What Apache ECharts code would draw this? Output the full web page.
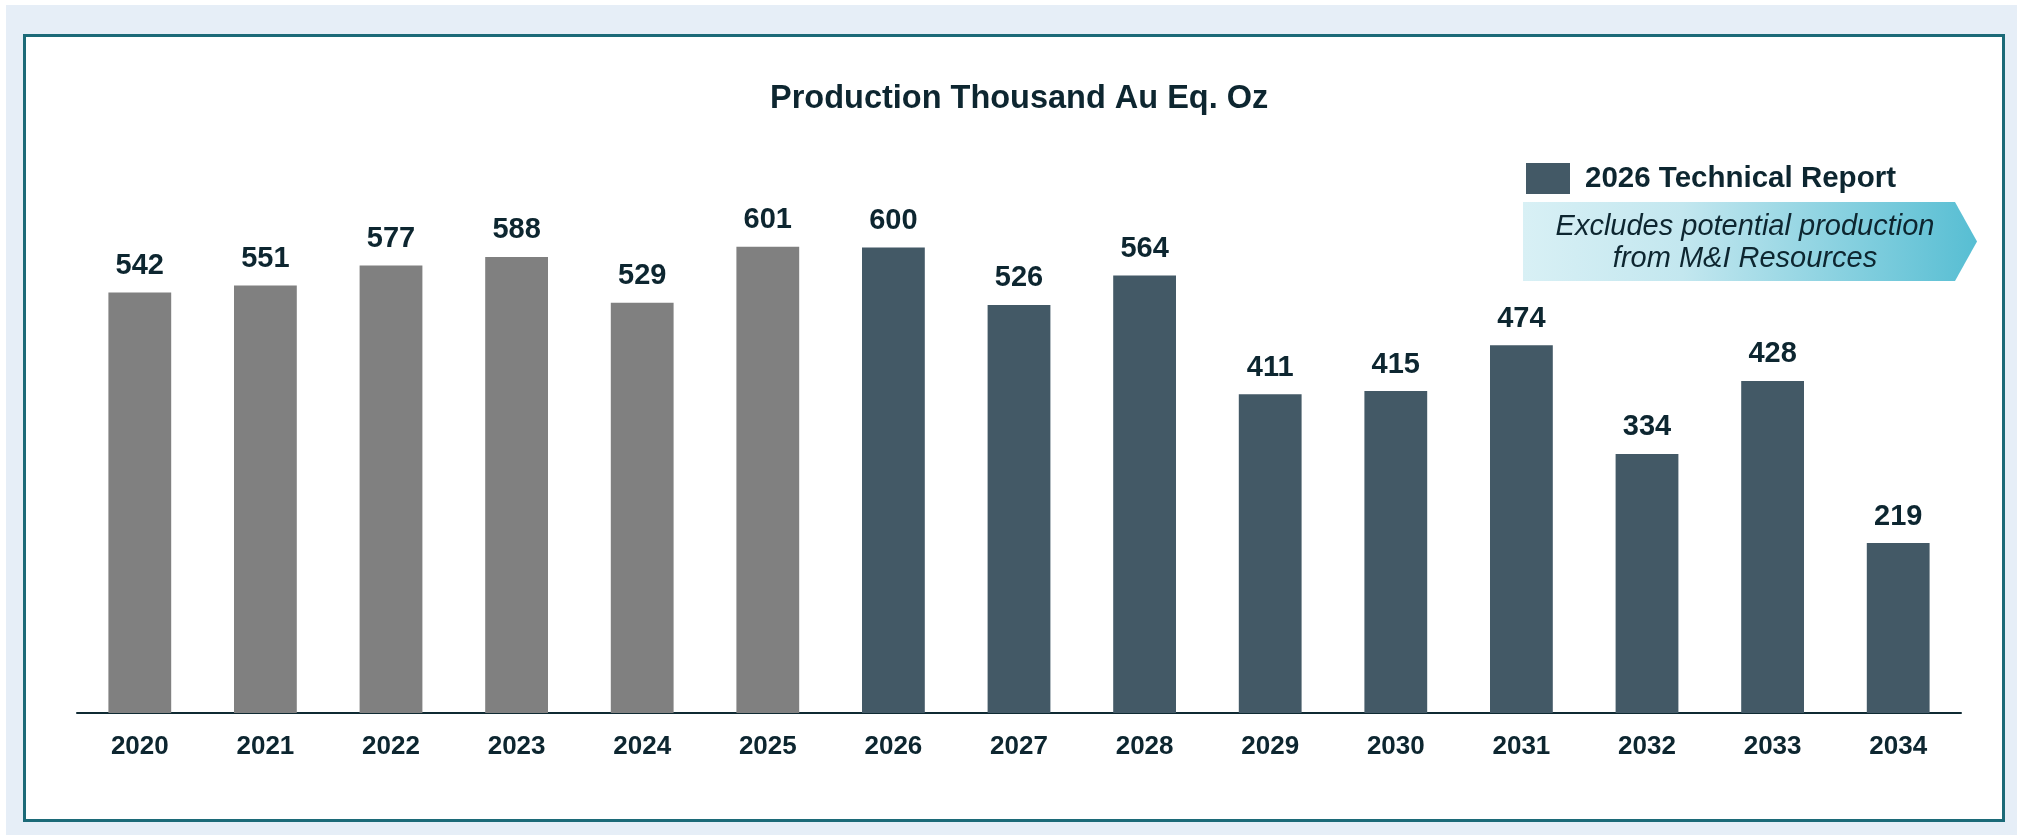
<!DOCTYPE html>
<html>
<head>
<meta charset="utf-8">
<script src="https://cdn.jsdelivr.net/npm/echarts@6/dist/echarts.min.js"></script>
<style>
  html, body { margin: 0; padding: 0; background: #ffffff; }
  #panel { position: absolute; left: 6px; top: 5px; width: 2011px; height: 830px; background: #E6EEF7; }
  #frame { position: absolute; left: 23px; top: 34px; width: 1976px; height: 782px; background: #ffffff; border: 3px solid #1C6A78; }
  #chart { position: absolute; left: 0; top: 0; width: 2017px; height: 835px; }
</style>
</head>
<body>
<div id="panel"></div>
<div id="frame"></div>
<div id="chart"></div>
<script>
// Annual gold-equivalent production, thousand ounces
const years = ['2020', '2021', '2022', '2023', '2024', '2025', '2026', '2027', '2028', '2029', '2030', '2031', '2032', '2033', '2034'];
const historical = [542, 551, 577, 588, 529, 601, null, null, null, null, null, null, null, null, null];
const technicalReport = [null, null, null, null, null, null, 600, 526, 564, 411, 415, 474, 334, 428, 219];

const FONT = '"Liberation Sans", Arial, Helvetica, sans-serif';
const INK = '#0D2630';

const chart = echarts.init(document.getElementById('chart'));

const valueLabel = {
  show: true,
  position: 'top',
  distance: 12,
  fontFamily: FONT,
  fontSize: 29,
  fontWeight: 'bold',
  color: INK
};

chart.setOption({
  animation: false,
  title: {
    text: 'Production Thousand Au Eq. Oz',
    left: 765,
    top: 78,
    textStyle: { fontFamily: FONT, fontSize: 32.5, fontWeight: 'bold', color: INK }
  },
  legend: {
    data: ['2026 Technical Report'],
    left: 1526,
    top: 163,
    padding: 0,
    itemWidth: 44,
    itemHeight: 31,
    icon: 'rect',
    textStyle: { fontFamily: FONT, fontSize: 29.5, fontWeight: 'bold', color: INK, padding: [0, 0, 0, 10] }
  },
  grid: { left: 77, right: 56, top: 170, bottom: 122 },
  xAxis: {
    type: 'category',
    data: years,
    axisLine: { lineStyle: { color: '#0F2A33', width: 2 } },
    axisTick: { show: false },
    axisLabel: { fontFamily: FONT, fontSize: 26, fontWeight: 'bold', color: INK, margin: 21 }
  },
  yAxis: {
    type: 'value',
    min: 0,
    max: 700,
    show: false,
    splitLine: { show: false }
  },
  series: [
    {
      name: 'Historical',
      type: 'bar',
      data: historical,
      barWidth: '50%',
      barGap: '-100%',
      itemStyle: { color: '#808080' },
      label: valueLabel
    },
    {
      name: '2026 Technical Report',
      type: 'bar',
      data: technicalReport,
      barWidth: '50%',
      barGap: '-100%',
      itemStyle: { color: '#435966' },
      label: valueLabel
    }
  ],
  graphic: [
    {
      type: 'polygon',
      shape: { points: [[1523, 202], [1955, 202], [1977, 241.5], [1955, 281], [1523, 281]] },
      style: {
        fill: {
          type: 'linear', x: 0, y: 0, x2: 1, y2: 0,
          colorStops: [
            { offset: 0, color: '#D8F0F5' },
            { offset: 0.35, color: '#C3E7EF' },
            { offset: 1, color: '#57BED3' }
          ]
        }
      }
    },
    {
      type: 'text',
      x: 1745,
      y: 243,
      style: {
        text: 'Excludes potential production\nfrom M&I Resources',
        fontFamily: FONT,
        fontSize: 29,
        fontStyle: 'italic',
        lineHeight: 32,
        fill: INK,
        align: 'center',
        verticalAlign: 'middle'
      }
    }
  ]
});
</script>
</body>
</html>
